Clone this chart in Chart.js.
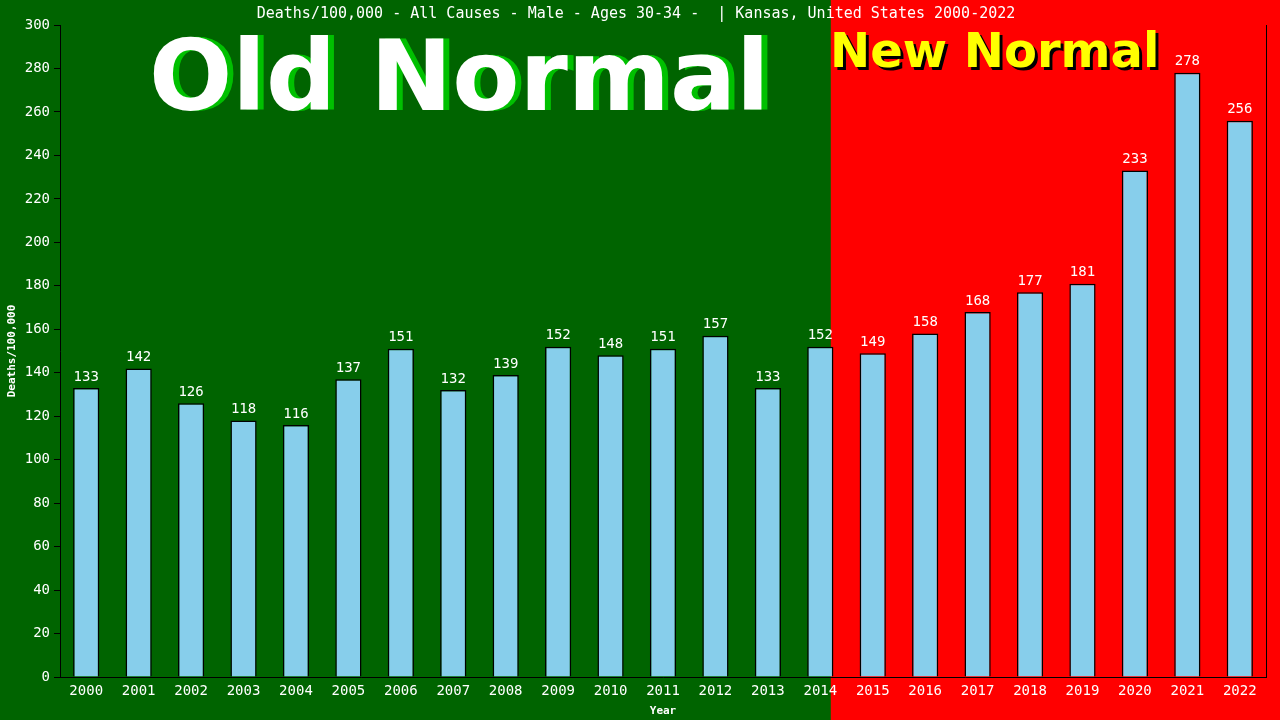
<!DOCTYPE html>
<html>
<head>
<meta charset="utf-8">
<script src="https://cdn.jsdelivr.net/npm/chart.js@4/dist/chart.umd.min.js"></script>
<style>
  html, body { margin: 0; padding: 0; background: #006400; }
  #wrap { width: 1280px; height: 720px; }
</style>
</head>
<body>
<div id="wrap"><canvas id="deathsChart" width="1280" height="720"></canvas></div>
<script>
// Deaths per 100,000, males 30-34, Kansas
const years = ['2000', '2001', '2002', '2003', '2004', '2005', '2006', '2007', '2008', '2009', '2010', '2011',
    '2012', '2013', '2014', '2015', '2016', '2017', '2018', '2019', '2020', '2021', '2022'];
const deathRates = [133, 142, 126, 118, 116, 137, 151, 132, 139, 152, 148, 151,
    157, 133, 152, 149, 158, 168, 177, 181, 233, 278, 256];
const yTicks = [0, 20, 40, 60, 80, 100, 120, 140, 160, 180, 200, 220, 240, 260, 280, 300];
const newNormalStart = 14; // last "old normal" year index

const mono = "'DejaVu Sans Mono', monospace";

// green / red backgrounds split between 2014 and 2015
const backgroundPlugin = {
    id: 'background',
    beforeDraw(chart) {
        const ctx = chart.ctx;
        const x = chart.scales.x;
        const split = x.getPixelForValue(newNormalStart) + (x.getPixelForValue(1) - x.getPixelForValue(0)) * 0.2;
        ctx.save();
        ctx.fillStyle = '#006400';
        ctx.fillRect(0, 0, chart.width, chart.height);
        ctx.fillStyle = '#ff0000';
        ctx.fillRect(split, 0, chart.width - split, chart.height);
        ctx.restore();
    }
};

// banner text + value labels
const overlayPlugin = {
    id: 'overlay',
    beforeDatasetsDraw(chart) {
        const ctx = chart.ctx;
        ctx.save();
        ctx.textBaseline = 'alphabetic';
        ctx.textAlign = 'left';
        ctx.font = "bold 98px 'DejaVu Sans'";
        ctx.fillStyle = '#00c000';
        ctx.fillText('Old Normal', 155, 110);
        ctx.fillStyle = '#ffffff';
        ctx.fillText('Old Normal', 149, 110);

        ctx.font = "bold 48px 'DejaVu Sans'";
        ctx.fillStyle = '#000000';
        ctx.fillText('New Normal', 833, 70);
        ctx.fillStyle = '#ffff00';
        ctx.fillText('New Normal', 830, 67);
        ctx.restore();
    },
    afterDatasetsDraw(chart) {
        const ctx = chart.ctx;
        const meta = chart.getDatasetMeta(0);
        ctx.save();
        ctx.font = '14px ' + mono;
        ctx.fillStyle = '#ffffff';
        ctx.textAlign = 'center';
        ctx.textBaseline = 'bottom';
        meta.data.forEach((bar, i) => {
            ctx.fillText(String(deathRates[i]), bar.x, bar.y - 4);
        });
        // right frame line
        const area = chart.chartArea;
        ctx.strokeStyle = '#000000';
        ctx.lineWidth = 1;
        ctx.beginPath();
        ctx.moveTo(area.right + 0.5, area.top);
        ctx.lineTo(area.right + 0.5, area.bottom);
        ctx.stroke();
        ctx.restore();
    }
};

const ctx = document.getElementById('deathsChart').getContext('2d');
new Chart(ctx, {
    type: 'bar',
    data: {
        labels: years,
        datasets: [{
            label: 'Deaths/100,000',
            data: deathRates,
            backgroundColor: '#87ceeb',
            borderColor: '#000000',
            borderWidth: { left: 1.5, top: 1.5, right: 1.5, bottom: 0 },
            borderSkipped: false,
            barPercentage: 0.5,
            categoryPercentage: 1.0
        }]
    },
    options: {
        responsive: false,
        animation: false,
        layout: { padding: { top: 0, right: 14, left: 6, bottom: 0 } },
        plugins: {
            legend: { display: false },
            tooltip: { enabled: false },
            title: {
                display: true,
                text: 'Deaths/100,000 - All Causes - Male - Ages 30-34 -  | Kansas, United States 2000-2022',
                color: '#ffffff',
                font: { family: mono, size: 15, weight: 'normal' },
                padding: { top: 5, bottom: 2 }
            }
        },
        scales: {
            x: {
                afterFit(scale) { scale.height = 43; },
                grid: { display: false, drawTicks: false },
                border: { color: '#000000', width: 1 },
                ticks: { color: '#ffffff', font: { family: mono, size: 14 }, padding: 6, maxRotation: 0, autoSkip: false },
                title: { display: true, text: 'Year', color: '#ffffff', font: { family: mono, size: 11, weight: 'bold' }, padding: { top: 0, bottom: 2 } }
            },
            y: {
                min: 0,
                max: 300,
                afterFit(scale) { scale.width = 54; },
                afterBuildTicks(scale) {
                    scale.ticks = yTicks.map(v => ({ value: v }));
                },
                grid: { drawOnChartArea: false, color: '#000000', tickLength: 6 },
                border: { color: '#000000', width: 1 },
                ticks: { color: '#ffffff', font: { family: mono, size: 14 }, padding: 4 },
                title: { display: true, text: 'Deaths/100,000', color: '#ffffff', font: { family: mono, size: 11, weight: 'bold' }, padding: { top: 0, bottom: 2 } }
            }
        }
    },
    plugins: [backgroundPlugin, overlayPlugin]
});
</script>
</body>
</html>
